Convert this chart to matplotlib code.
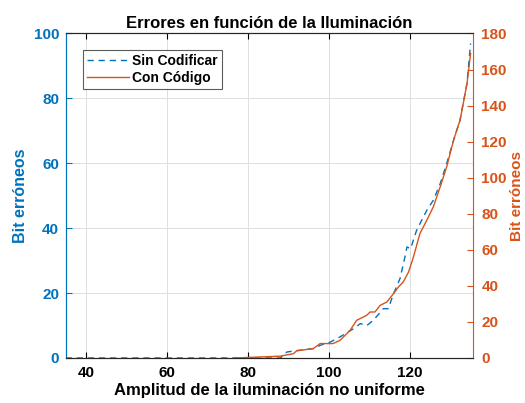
import numpy as np
import matplotlib
matplotlib.use("Agg")
import matplotlib.pyplot as plt

plt.rcParams['font.family'] = ['Liberation Sans', 'DejaVu Sans']
plt.rcParams['font.weight'] = 'bold'

BLUE = "#0072BD"
ORANGE = "#D95319"

# bits erroneos sin codificar (eje izquierdo)
x_sin = [35, 88, 89.6, 92.8, 96.1, 97.8, 100.3, 102.7, 106, 107.7, 109.3, 110.9,
         113.4, 114.6, 115.9, 117.5, 118.7, 119.2, 120.1, 121.6, 124.1, 125.7,
         127.4, 129, 130.7, 132.3, 134, 134.9]
y_sin = [0, 0, 1.85, 2.4, 2.9, 3.9, 4.9, 6.5, 9, 10.6, 10, 11.6,
         15.2, 15.2, 19.8, 24.5, 31.1, 34.2, 33.7, 39.4, 45.5, 48.6,
         53.7, 59.9, 67.1, 73.3, 84.6, 96.9]

# bits erroneos con codigo (eje derecho)
x_con = [76.6, 87.9, 91.2, 92, 96.1, 97.8, 101, 102.7, 105.2, 106.8, 109.3, 110.1,
         111.3, 112.6, 114.2, 115.9, 117.1, 118.3, 119.6, 120.8, 122.4, 124.1,
         125.7, 127.4, 129, 130.7, 132.3, 134, 134.9]
y_con = [0, 1, 2.4, 4, 5.2, 8, 8, 9.8, 15.4, 20.9, 23.7, 25.5,
         25.5, 29.2, 31, 35.7, 39.4, 42.2, 47.7, 56, 69, 76.4,
         83.8, 94.9, 106, 120.8, 131.9, 152, 168.9]

fig = plt.figure(figsize=(5.25, 4.03), dpi=100)
ax = fig.add_axes([0.1257, 0.1117, 0.7753, 0.8053])
ax2 = ax.twinx()

l1, = ax.plot(x_sin, y_sin, color=BLUE, ls=(0, (4.5, 3.5)), lw=1.0, label="Sin Codificar")
l2, = ax2.plot(x_con, y_con, color=ORANGE, lw=1.0, label="Con Código")

ax.set_xlim(35.1, 135.5)
ax.set_ylim(0, 100)
ax2.set_ylim(0, 180)
ax.set_xticks([40, 60, 80, 100, 120])
ax.set_yticks([0, 20, 40, 60, 80, 100])
ax2.set_yticks(np.arange(0, 181, 20))

ax.grid(True, color="#dfdfdf", lw=0.7)
ax.set_axisbelow(True)

ax.tick_params(axis='x', direction='in', top=True, labelsize=11, length=4, width=0.8, pad=6)
ax.tick_params(axis='y', direction='in', colors=BLUE, labelsize=11, length=4, width=0.8, pad=5)
ax2.tick_params(axis='y', direction='in', colors=ORANGE, labelsize=11, length=4, width=0.8, pad=6)
for lab in ax.get_xticklabels() + ax.get_yticklabels() + ax2.get_yticklabels():
    lab.set_fontweight('bold')

ax.spines['left'].set_color(BLUE)
ax2.spines['left'].set_color(BLUE)
ax2.spines['right'].set_color(ORANGE)
ax.spines['right'].set_visible(False)
for sp in ['top', 'bottom']:
    ax.spines[sp].set_color("#262626")
    ax2.spines[sp].set_color("#262626")

ax.set_title("Errores en función de la Iluminación", fontsize=12, fontweight='bold', pad=4)
ax.set_xlabel("Amplitud de la iluminación no uniforme", fontsize=12, fontweight='bold', labelpad=2)
ax.set_ylabel("Bit erróneos", fontsize=11.5, fontweight='bold', color=BLUE, labelpad=4)
ax2.set_ylabel("Bit erróneos", fontsize=11, fontweight='bold', color=ORANGE, labelpad=2)

leg = ax.legend(handles=[l1, l2], loc='upper left', fontsize=10, frameon=True,
                fancybox=False, edgecolor='#333333', handlelength=3.0,
                handletextpad=0.2, borderpad=0.3, labelspacing=0.2,
                bbox_to_anchor=(0.025, 0.97))
leg.get_frame().set_linewidth(0.8)
for t in leg.get_texts():
    t.set_fontweight('bold')

fig.savefig("out.png", dpi=100)
